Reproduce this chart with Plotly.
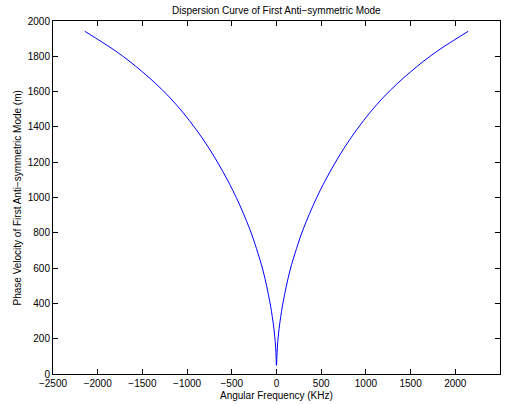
import plotly.graph_objects as go

# Positive-frequency branch (KHz, m)
freq_pos = [1, 4, 10, 20, 40, 75, 150, 225, 300, 450, 600, 750, 900,
            1050, 1200, 1350, 1500, 1650, 1800, 1950, 2145]
vel_pos = [50, 95, 152, 215, 300, 410, 585, 712, 822, 1000, 1147, 1275, 1386,
           1484, 1570, 1645, 1712, 1774, 1830, 1880, 1942]

# Full curve (symmetric about zero frequency)
freq = [-f for f in reversed(freq_pos)] + [0] + freq_pos
vel = list(reversed(vel_pos)) + [48] + vel_pos

x_ticks = list(range(-2500, 2501, 500))
y_ticks = list(range(0, 2001, 200))

title_text = "Dispersion Curve of First Anti\u2212symmetric Mode"
x_label = "Angular Frequency (KHz)"
y_label = "Phase Velocity of First Anti\u2212symmetric Mode (m)"

fig = go.Figure()
fig.add_trace(go.Scatter(x=freq, y=vel, mode="lines",
                         line=dict(color="#0000ff", width=1, shape="spline", smoothing=1),
                         showlegend=False, hoverinfo="skip"))

font = dict(family="Liberation Sans, Arial, sans-serif", size=10, color="#000000")

axis_common = dict(showgrid=False, zeroline=False, showline=True, linecolor="#000000",
                   linewidth=1, mirror="ticks", ticks="inside", ticklen=5,
                   tickcolor="#000000", tickwidth=1, tickfont=font)

fig.update_layout(
    width=508, height=404,
    margin=dict(l=53, r=8, t=21, b=30),
    paper_bgcolor="#ffffff", plot_bgcolor="#ffffff",
    font=font,
    xaxis=dict(range=[-2500, 2500], tickvals=x_ticks, **axis_common),
    yaxis=dict(range=[0, 2000], tickvals=y_ticks, **axis_common),
    annotations=[
        dict(text=title_text, xref="paper", yref="paper", x=0.5, y=1.031,
             xanchor="center", yanchor="middle", showarrow=False, font=font),
        dict(text=x_label, xref="paper", yref="paper", x=0.5, y=-0.0595,
             xanchor="center", yanchor="middle", showarrow=False, font=font),
        dict(text=y_label, xref="paper", yref="paper", x=-0.0783, y=0.5,
             xanchor="center", yanchor="middle", textangle=-90, showarrow=False, font=font),
    ],
)

fig.write_html("out.html")
